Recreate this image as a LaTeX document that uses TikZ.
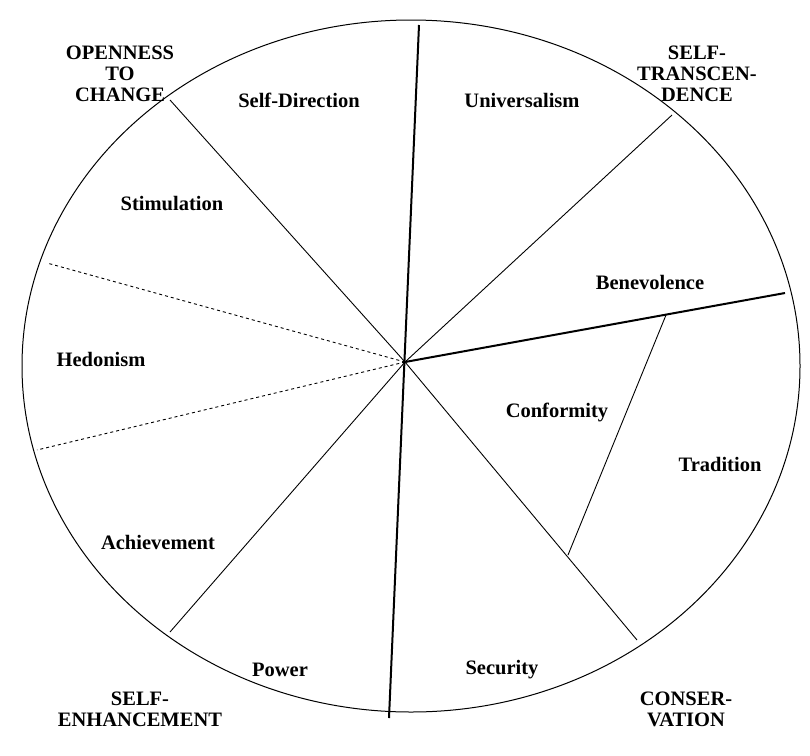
\documentclass[tikz,border=0pt]{standalone}
\usepackage{fontspec}
\usetikzlibrary{shapes.geometric}
\setmainfont{Liberation Serif}
\begin{document}
\begin{tikzpicture}[x=1pt,y=-1pt,
  lab/.style={font=\bfseries\fontsize{20.5}{21}\selectfont,align=center,inner sep=0pt},
  thin line/.style={line width=0.9pt},
  thick line/.style={line width=2pt}]
\useasboundingbox (0,0) rectangle (810,755);
\node[draw,ellipse,minimum width=778,minimum height=692,line width=1pt,inner sep=0pt] (ell) at (411,366) {};
\coordinate (c) at (405,362);
\coordinate (t) at (419,25);
\coordinate (b) at (389,718);
\coordinate (r) at (785,293);
\coordinate (ul) at (170,100);
\coordinate (ur) at (672,115);
\coordinate (lr) at (637,640);
\coordinate (ll) at (170,632);
\coordinate (dl1) at (47,263);
\coordinate (dl2) at (37,450);
\coordinate (tr1) at (666,315);
\coordinate (tr2) at (568,555);
\draw[thick line] (t) -- (b);
\draw[thick line] (c) -- (r);
\draw[thin line] (c) -- (ul);
\draw[thin line] (c) -- (ur);
\draw[thin line] (c) -- (lr);
\draw[thin line] (c) -- (ll);
\draw[thin line,dashed] (c) -- (dl1);
\draw[thin line,dashed] (c) -- (dl2);
\draw[thin line] (tr1) -- (tr2);
\node[lab] (o) at (120,74) {OPENNESS\\TO\\CHANGE};
\node[lab] (sd) at (299,100) {Self-Direction};
\node[lab] (u) at (522,100) {Universalism};
\node[lab] (st) at (697,74) {SELF-\\TRANSCEN-\\DENCE};
\node[lab] (sti) at (172,204) {Stimulation};
\node[lab] (be) at (650,282) {Benevolence};
\node[lab] (he) at (101,359) {Hedonism};
\node[lab] (co) at (557,412) {Conformity};
\node[lab] (tr) at (720,464) {Tradition};
\node[lab] (ac) at (158,542) {Achievement};
\node[lab] (po) at (280,670) {Power};
\node[lab] (se) at (502,670) {Security};
\node[lab] (sen) at (140,709) {SELF-\\ENHANCEMENT};
\node[lab] (cons) at (686,709) {CONSER-\\VATION};
\end{tikzpicture}
\end{document}
